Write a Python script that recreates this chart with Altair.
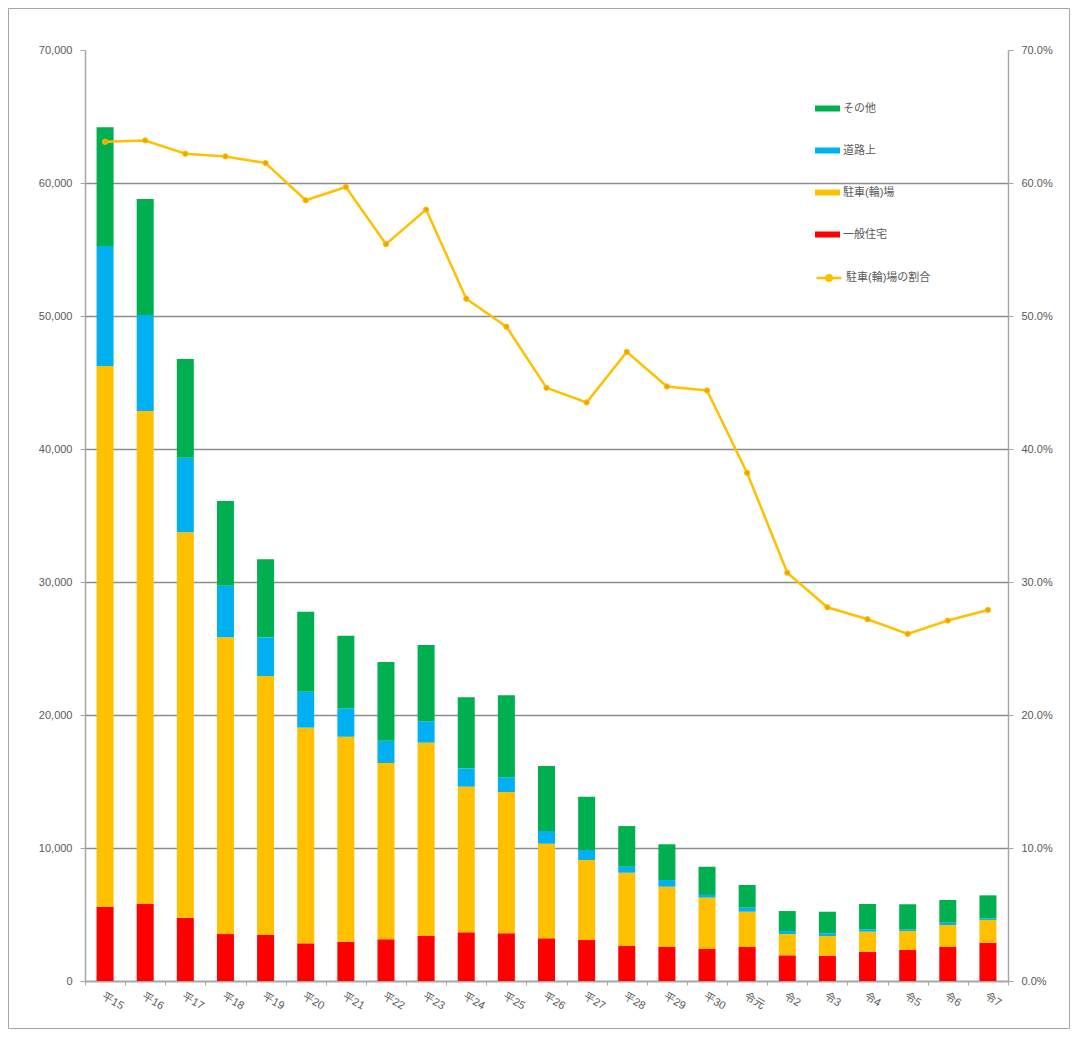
import altair as alt
import pandas as pd

years = ["平15", "平16", "平17", "平18", "平19", "平20", "平21", "平22", "平23", "平24",
         "平25", "平26", "平27", "平28", "平29", "平30", "令元", "令2", "令3", "令4",
         "令5", "令6", "令7"]
ippan = [5590, 5790, 4760, 3530, 3480, 2830, 2960, 3140, 3410, 3660, 3590, 3210, 3080,
         2630, 2580, 2410, 2560, 1930, 1900, 2200, 2330, 2580, 2880]
chusha = [40650, 37070, 28980, 22310, 19450, 16220, 15410, 13250, 14510, 10950, 10620,
          7110, 6020, 5510, 4510, 3860, 2650, 1600, 1480, 1510, 1430, 1630, 1710]
doro = [9020, 7220, 5610, 3880, 2910, 2700, 2130, 1680, 1610, 1380, 1110, 960, 750,
        450, 500, 200, 300, 230, 210, 180, 130, 170, 120]
sonota = [8940, 8720, 7420, 6370, 5870, 6020, 5460, 5920, 5730, 5340, 6160, 4890, 4010,
          3060, 2690, 2120, 1710, 1500, 1620, 1900, 1880, 1710, 1730]
ratio = [63.1, 63.2, 62.2, 62.0, 61.5, 58.7, 59.7, 55.4, 58.0, 51.3, 49.2, 44.6, 43.5,
         47.3, 44.7, 44.4, 38.2, 30.7, 28.1, 27.2, 26.1, 27.1, 27.9]

series_names = ["一般住宅", "駐車(輪)場", "道路上", "その他"]
line_name = "駐車(輪)場の割合"
left_ticks = [0, 10000, 20000, 30000, 40000, 50000, 60000, 70000]
right_ticks = [0, 0.1, 0.2, 0.3, 0.4, 0.5, 0.6, 0.7]

rows = []
for i, y in enumerate(years):
    for k, (name, vals) in enumerate(zip(series_names, [ippan, chusha, doro, sonota])):
        rows.append({"year": y, "series": name, "value": vals[i], "ord": k})
df_bar = pd.DataFrame(rows)
df_line = pd.DataFrame({"year": years, "ratio": [r / 100 for r in ratio], "name": line_name})

FONT = "Liberation Sans, Noto Sans CJK JP, sans-serif"
TXT = "#595959"
AX = "#A6A6A6"

xenc = alt.X("year:N", sort=years,
             scale=alt.Scale(paddingInner=0, paddingOuter=0),
             axis=alt.Axis(title=None, labelAngle=30, tickBand="extent", labelColor=TXT,
                           labelFontSize=11, domainColor=AX, domainWidth=1.5, tickColor=AX,
                           tickSize=4, labelPadding=5, grid=False))

legend_order = ["その他", "道路上", "駐車(輪)場", "一般住宅"]
legend_colors = ["#00B050", "#00B0F0", "#FFC000", "#FF0000"]

bars = alt.Chart(df_bar).mark_bar(size=17).encode(
    x=xenc,
    y=alt.Y("value:Q", stack="zero",
            scale=alt.Scale(domain=[0, 70000], nice=False),
            axis=alt.Axis(title=None, format=",.0f", values=left_ticks, grid=True,
                          gridColor="#8C8C8C", gridWidth=1.5,
                          gridOpacity={"condition": {"test": "datum.value >= 70000", "value": 0}, "value": 1},
                          labelColor=TXT, labelFontSize=11, domainColor=AX, domainWidth=1.5,
                          tickColor=AX, tickSize=5, labelPadding=8)),
    color=alt.Color("series:N",
                    scale=alt.Scale(domain=legend_order, range=legend_colors),
                    legend=alt.Legend(title=None, orient="none", legendX=730, legendY=46,
                                      symbolType="M-1,-0.24H1V0.24H-1Z", symbolSize=625,
                                      symbolStrokeWidth=0, rowPadding=24, labelFontSize=11,
                                      labelColor=TXT, labelOffset=3)),
    order=alt.Order("ord:Q"),
)

line = alt.Chart(df_line).mark_line(
    strokeWidth=2.5,
    point=alt.OverlayMarkDef(filled=True, size=28, fill="#EFA500", stroke="#E8A000", strokeWidth=1),
).encode(
    x=xenc,
    y=alt.Y("ratio:Q", scale=alt.Scale(domain=[0, 0.7], nice=False),
            axis=alt.Axis(title=None, orient="right", format=".1%", values=right_ticks,
                          grid=False, labelColor=TXT, labelFontSize=11, domainColor=AX,
                          domainWidth=1.5, tickColor=AX, tickSize=5, labelPadding=8)),
    stroke=alt.Stroke("name:N", scale=alt.Scale(domain=[line_name], range=["#FFC000"]),
                      legend=alt.Legend(title=None, orient="none", legendX=730, legendY=214,
                                        symbolType="M-1,0H1M-0.22,0A0.22,0.22,0,1,1,0.22,0A0.22,0.22,0,1,1,-0.22,0",
                                        symbolSize=625, symbolStrokeWidth=2.5,
                                        symbolFillColor="#EFA500", labelFontSize=11,
                                        labelColor=TXT, labelOffset=3)),
)

frame = alt.Chart(pd.DataFrame({"a": [0]})).mark_rect(
    filled=False, stroke="#A6A6A6", strokeWidth=1
).encode(x=alt.value(-76.5), x2=alt.value(984.5), y=alt.value(-41.5), y2=alt.value(978.5))

chart = alt.layer(bars, line, frame).resolve_scale(
    y="independent", color="independent", stroke="independent"
).properties(
    width=923, height=931,
    autosize=alt.AutoSizeParams(type="none"),
    padding={"left": 77, "top": 42, "right": 63, "bottom": 49},
).configure(font=FONT).configure_view(stroke="transparent")

chart.save("out.html", embed_options={"renderer": "svg", "actions": False})
